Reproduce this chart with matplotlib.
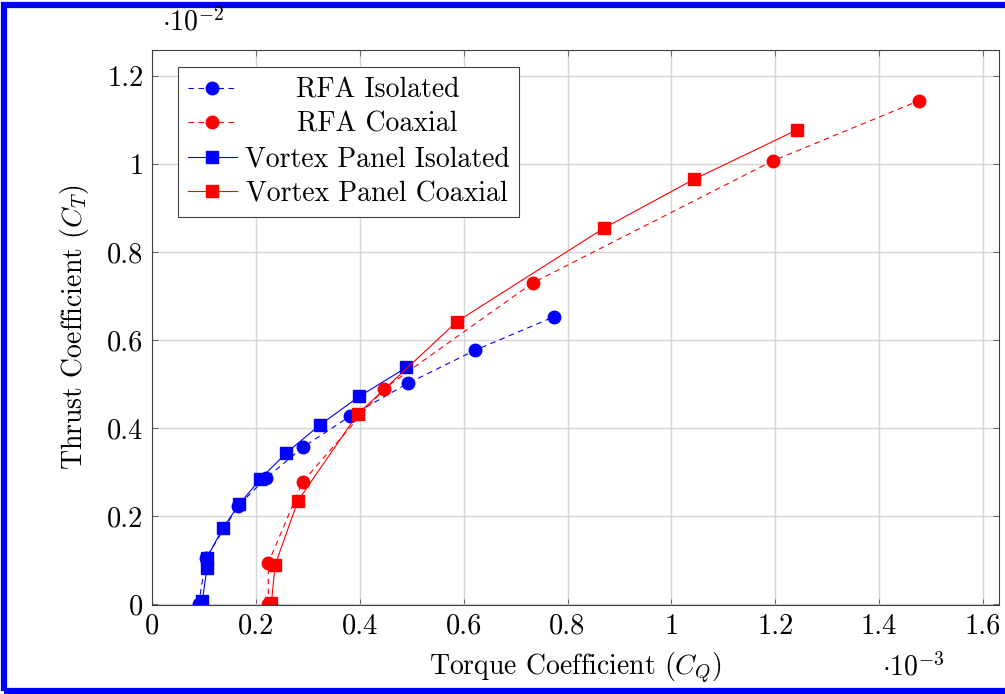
import matplotlib
matplotlib.use("Agg")
import matplotlib.pyplot as plt
from matplotlib.patches import Rectangle

# torque coefficient in 1e-3, thrust coefficient in 1e-2
rfa_iso_cq = [0.090, 0.104, 0.166, 0.219, 0.291, 0.381, 0.493, 0.622, 0.774]
rfa_iso_ct = [0.000, 0.105, 0.224, 0.286, 0.357, 0.427, 0.502, 0.577, 0.653]

rfa_coax_cq = [0.224, 0.224, 0.290, 0.447, 0.733, 1.195, 1.477]
rfa_coax_ct = [0.000, 0.094, 0.278, 0.490, 0.730, 1.007, 1.144]

vp_iso_cq = [0.097, 0.106, 0.106, 0.137, 0.168, 0.208, 0.259, 0.323, 0.399, 0.490]
vp_iso_ct = [0.008, 0.083, 0.106, 0.174, 0.227, 0.284, 0.344, 0.407, 0.472, 0.538]

vp_coax_cq = [0.230, 0.237, 0.281, 0.396, 0.587, 0.871, 1.043, 1.241]
vp_coax_ct = [0.003, 0.089, 0.235, 0.432, 0.642, 0.855, 0.965, 1.077]

xticks = [0, 0.2, 0.4, 0.6, 0.8, 1.0, 1.2, 1.4, 1.6]
xtick_labels = ["0", "0.2", "0.4", "0.6", "0.8", "1", "1.2", "1.4", "1.6"]
yticks = [0, 0.2, 0.4, 0.6, 0.8, 1.0, 1.2]
ytick_labels = ["0", "0.2", "0.4", "0.6", "0.8", "1", "1.2"]

plt.rcParams['font.family'] = ['cmr10', 'DejaVu Serif']
plt.rcParams['mathtext.fontset'] = 'cm'
plt.rcParams['axes.unicode_minus'] = False

fs = 20

fig = plt.figure(figsize=(10.05, 6.94), dpi=100)
ax = fig.add_axes([0.1512, 0.128, 0.843, 0.800])

blue = '#0000ff'
red = '#ff0000'
ax.plot(rfa_iso_cq, rfa_iso_ct, color=blue, ls='--', dashes=(5, 4), lw=0.8,
        marker='o', ms=9, label='RFA Isolated')
ax.plot(rfa_coax_cq, rfa_coax_ct, color=red, ls='--', dashes=(5, 4), lw=0.8,
        marker='o', ms=9, label='RFA Coaxial')
ax.plot(vp_iso_cq, vp_iso_ct, color=blue, lw=0.8, marker='s', ms=9,
        label='Vortex Panel Isolated')
ax.plot(vp_coax_cq, vp_coax_ct, color=red, lw=0.8, marker='s', ms=9,
        label='Vortex Panel Coaxial')

ax.set_xlim(0, 1.631)
ax.set_ylim(-0.002, 1.259)
ax.set_xticks(xticks)
ax.set_xticklabels(xtick_labels)
ax.set_yticks(yticks)
ax.set_yticklabels(ytick_labels)
ax.tick_params(direction='in', length=4, width=0.6, labelsize=fs + 0.5, color='#555555',
               top=True, right=True, pad=6)
ax.grid(True, color='#d4d4d4', lw=1.0)
ax.set_axisbelow(True)
for s in ax.spines.values():
    s.set_color('#404040')
    s.set_linewidth(0.8)

ax.set_xlabel('Torque Coefficient ($C_Q$)', fontsize=fs, labelpad=8)
ax.set_ylabel('Thrust Coefficient ($C_T$)', fontsize=fs, labelpad=12)

fig.text(193 / 1005, 1 - 22 / 694, r'$\cdot 10^{-2}$', fontsize=fs, ha='center', va='center')
fig.text(913 / 1005, 1 - 667 / 694, r'$\cdot 10^{-3}$', fontsize=fs, ha='center', va='center')

leg = ax.legend(loc='upper left', bbox_to_anchor=(0.031, 0.969), fontsize=fs,
                fancybox=False, edgecolor='#404040', framealpha=1,
                handlelength=1.75, handletextpad=0.3, labelspacing=0.3,
                borderpad=0.35, borderaxespad=0)
leg.get_frame().set_linewidth(0.8)

# center the labels like the pgfplots legend
fig.canvas.draw()
r = fig.canvas.get_renderer()
widths = [t.get_window_extent(r).width for t in leg.get_texts()]
wmax = max(widths)
for t, w in zip(leg.get_texts(), widths):
    t.set_position(((wmax - w) / 2, 0))

fig.patches.append(Rectangle((4 / 1005, 3 / 694), 1.2, 1 - 8 / 694,
                             transform=fig.transFigure, fill=False,
                             edgecolor=blue, lw=4.5))

fig.savefig('out.png', dpi=100)
